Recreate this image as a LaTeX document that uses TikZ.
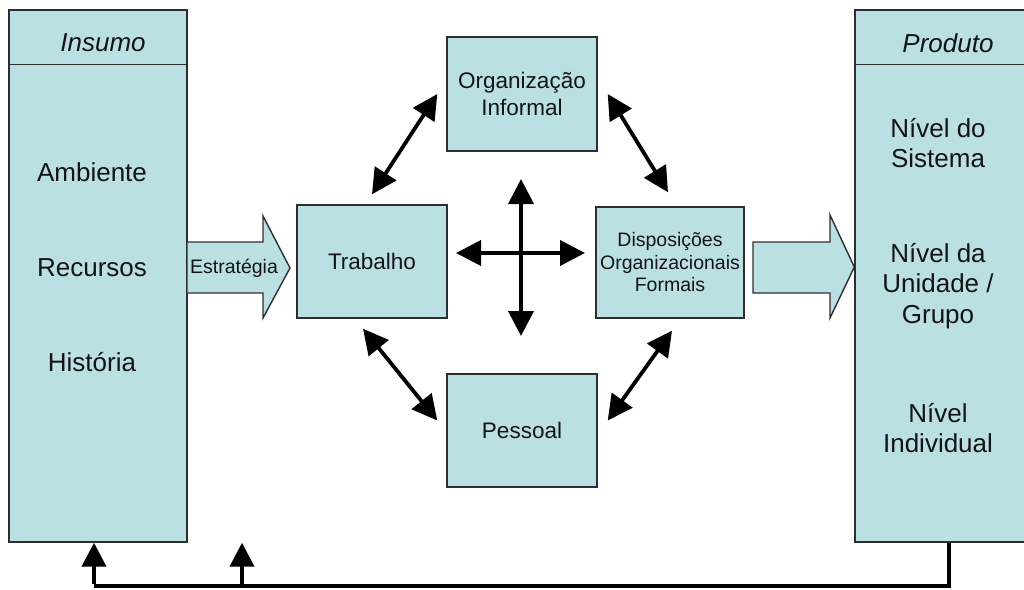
\documentclass[tikz,border=0pt]{standalone}
\usepackage{fontspec}
\setmainfont{Liberation Sans}
\usetikzlibrary{arrows.meta,calc}
\definecolor{boxfill}{HTML}{BBE0E3}
\definecolor{boxline}{HTML}{2E2E2E}
\definecolor{ink}{HTML}{141414}
\tikzset{
  panel/.style={draw=boxline, fill=boxfill, line width=1.4pt, rectangle, inner sep=0pt},
  sidetext/.style={text=ink, align=center, font=\fontsize{26}{30.5}\selectfont},
  headtext/.style={text=ink, font=\fontsize{26}{30}\selectfont\itshape},
  midtext/.style={text=ink, align=center, font=\fontsize{22.5}{27}\selectfont},
  smalltext/.style={text=ink, align=center, font=\fontsize{19.5}{22.5}\selectfont},
  link/.style={line width=3.8pt, draw=black, {Triangle[length=25pt,width=25pt]}-{Triangle[length=25pt,width=25pt]}},
  backlink/.style={line width=3.8pt, draw=black, -{Triangle[length=24pt,width=24pt]}},
  blockarrow/.style={draw=boxline, fill=boxfill, line width=1.4pt, line join=miter}
}
\begin{document}
\begin{tikzpicture}[x=1pt,y=-1pt]
\useasboundingbox (0,0) rectangle (1024,589);

% input column
\node[panel, minimum width=178pt, minimum height=532pt] (inbox) at (98,276) {};
\draw[boxline, line width=1.4pt] ([yshift=-55pt]inbox.north west) -- ([yshift=-55pt]inbox.north east);
\node[headtext] (insumo) at (103,43) {Insumo};
\node[sidetext] (amb) at (92,172) {Ambiente};
\node[sidetext] (rec) at (92,268) {Recursos};
\node[sidetext] (hist) at (92,362) {História};

% output column
\node[panel, minimum width=178pt, minimum height=532pt] (outbox) at (944,276) {};
\draw[boxline, line width=1.4pt] ([yshift=-55pt]outbox.north west) -- ([yshift=-55pt]outbox.north east);
\node[headtext] (produto) at (948,43) {Produto};
\node[sidetext] (nsis) at (938,143) {Nível do\\Sistema};
\node[sidetext] (nuni) at (938,286) {Nível da\\Unidade /\\Grupo};
\node[sidetext] (nind) at (938,428) {Nível\\Individual};

% strategy arrow into the core
\coordinate (sa) at (inbox.east |- 0,242);
\draw[blockarrow] (sa) -- (263,242) -- (263,216) -- (290,268) -- (263,318) -- (263,293) -- (inbox.east |- 0,293);
\node[smalltext] (estr) at (234,268) {Estratégia};

% output arrow
\draw[blockarrow] (753,242) -- (830,242) -- (830,215) -- (outbox.west |- 0,267) -- (830,318) -- (830,293) -- (753,293) -- cycle;

% the four components
\node[panel, minimum width=150pt, minimum height=113pt] (trab) at (372,261.5) {};
\node[midtext] at (trab.center) {Trabalho};
\node[panel, minimum width=150pt, minimum height=114pt] (org) at (522,94) {};
\node[midtext] at (org.center) {Organização\\Informal};
\node[panel, minimum width=148pt, minimum height=111pt] (disp) at (670,262.5) {};
\node[smalltext] at (disp.center) {Disposições\\Organizacionais\\Formais};
\node[panel, minimum width=150pt, minimum height=113pt] (pes) at (522,430.5) {};
\node[midtext] at (pes.center) {Pessoal};

% links between components
\draw[link] ([yshift=10pt]trab.north) -- ([xshift=-9pt]org.west);
\draw[link] ([xshift=10pt]org.east) -- ([xshift=-2pt,yshift=14pt]disp.north);
\draw[link] ([xshift=-9pt,yshift=-10pt]trab.south) -- ([xshift=-9pt,yshift=10pt]pes.west);
\draw[link] ([xshift=2pt,yshift=-12pt]disp.south) -- ([xshift=10pt,yshift=10pt]pes.east);

% central cross
\coordinate (cl) at (456,253);
\coordinate (cr) at (585,253);
\coordinate (ct) at (521,179);
\coordinate (cb) at (521,336);
\draw[link] (cl) -- (cr);
\draw[link] (ct) -- (cb);

% feedback loop
\coordinate (fb) at (949,586);
\coordinate (fa) at (242,586);
\coordinate (fl) at (94,586);
\draw[line width=3.8pt, line join=miter] (outbox.south -| fb) -- (fb) -- (fl);
\draw[backlink] ([yshift=1.9pt]fl) -- (fl |- inbox.south);
\draw[backlink] (fa) -- (fa |- inbox.south);
\end{tikzpicture}
\end{document}
